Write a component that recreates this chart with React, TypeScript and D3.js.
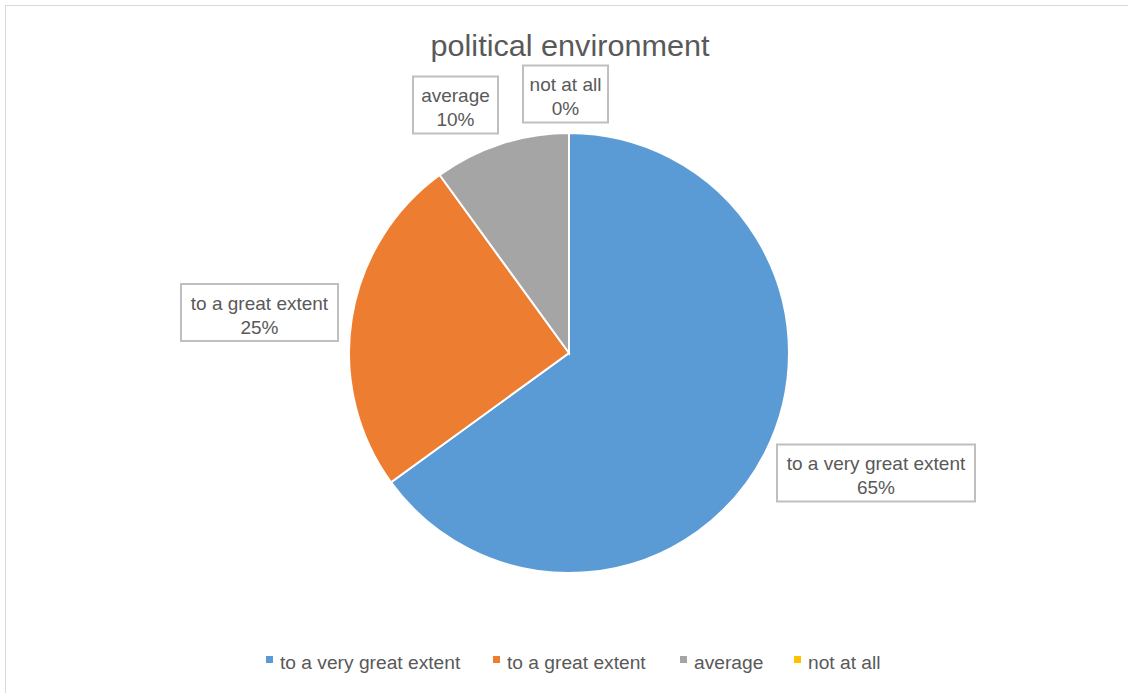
import React from "react";
import * as d3 from "d3";

const categories = ["to a very great extent", "to a great extent", "average", "not at all"];
const values = [65, 25, 10, 0];
const colors = ["#5B9BD5", "#ED7D31", "#A5A5A5", "#FFC000"];
const title = "political environment";
// label box centres (layout), in the order of categories
const labelCenters: [number, number][] = [
  [876, 473],
  [259.5, 312.5],
  [455.5, 105],
  [565.5, 94],
];
const labelBoxW = [198, 157, 85, 85];
const legendX = [266, 493, 680, 794];

const W = 1128;
const H = 693;
const FONT = "'Liberation Sans', Arial, sans-serif";

export default function App() {
  const cx = 569;
  const cy = 353;
  const r = 220;
  const total = d3.sum(values);
  const pie = d3.pie<number>().sort(null).startAngle(0).endAngle(2 * Math.PI)(values);
  const arc = d3.arc<d3.PieArcDatum<number>>().innerRadius(0).outerRadius(r);
  const fmt = (v: number) => `${Math.round((v / total) * 100)}%`;

  return (
    <svg width={W} height={H} style={{ position: "absolute", left: 0, top: 0, background: "#fff" }}>
      <rect x={5.5} y={5.5} width={W} height={H} fill="#fff" stroke="#D9D9D9" strokeWidth={1} />
      <text x={570} y={56} textAnchor="middle" fontFamily={FONT} fontSize={29} fill="#595959" textLength={279} lengthAdjust="spacingAndGlyphs">
        {title}
      </text>
      <g transform={`translate(${cx},${cy})`}>
        {pie.map((p, i) => (
          <path key={i} d={arc(p) || ""} fill={colors[i]} stroke="#fff" strokeWidth={2} />
        ))}
      </g>
      {categories.map((c, i) => {
        const [lx, ly] = labelCenters[i];
        const bw = labelBoxW[i];
        const bh = 57;
        return (
          <g key={c}>
            <rect x={lx - bw / 2} y={ly - bh / 2} width={bw} height={bh} fill="#fff" stroke="#BFBFBF" strokeWidth={2} />
            <text x={lx} y={ly - 3} textAnchor="middle" fontFamily={FONT} fontSize={19} fill="#595959">
              {c}
            </text>
            <text x={lx} y={ly + 21} textAnchor="middle" fontFamily={FONT} fontSize={19} fill="#595959">
              {fmt(values[i])}
            </text>
          </g>
        );
      })}
      {categories.map((c, i) => (
        <g key={"lg" + i}>
          <rect x={legendX[i]} y={656} width={7} height={7} fill={colors[i]} />
          <text x={legendX[i] + 14} y={669} fontFamily={FONT} fontSize={19.2} fill="#595959">
            {c}
          </text>
        </g>
      ))}
    </svg>
  );
}
